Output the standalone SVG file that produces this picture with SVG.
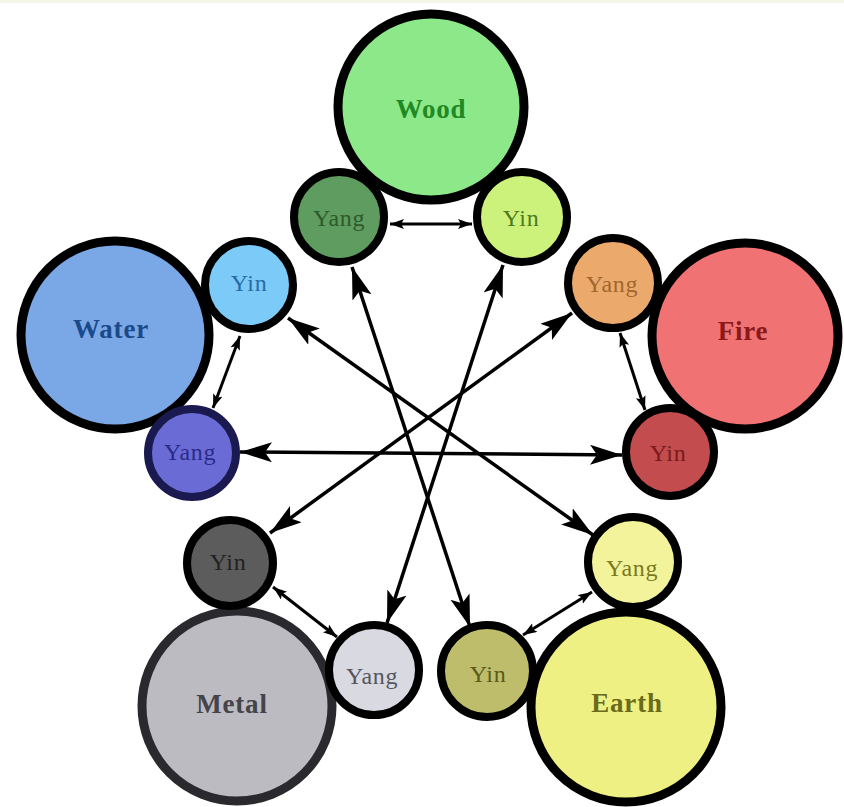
<svg xmlns="http://www.w3.org/2000/svg" width="844" height="807" viewBox="0 0 844 807">
<defs>
<marker id="big" markerUnits="userSpaceOnUse" markerWidth="34" markerHeight="22" refX="32" refY="10" orient="auto-start-reverse" viewBox="0 0 34 22">
<path d="M0,0 L32,10 L0,20 L7,10 z" fill="#000"/>
</marker>
<marker id="small" markerUnits="userSpaceOnUse" markerWidth="16" markerHeight="12" refX="14" refY="5" orient="auto-start-reverse" viewBox="0 0 16 12">
<path d="M0,0 L14,5 L0,10 L3,5 z" fill="#000"/>
</marker>
<style>
.big{stroke:#000;stroke-width:9}
.sm{stroke:#000;stroke-width:8}
.bl{font-family:"Liberation Serif",serif;font-weight:bold;font-size:27px;text-anchor:middle;letter-spacing:0.8px}
.yl{font-family:"Liberation Serif",serif;font-size:24px;text-anchor:middle;letter-spacing:0.6px}
.la{fill:none;stroke:#000;stroke-width:3.5;marker-start:url(#big);marker-end:url(#big)}
.sa{fill:none;stroke:#000;stroke-width:3;marker-start:url(#small);marker-end:url(#small)}
</style>
</defs>
<rect x="0" y="0" width="844" height="807" fill="#fff"/>
<rect x="0" y="0" width="844" height="3" fill="#f6f6e8"/>

<g id="wood">
<circle cx="431" cy="107" r="93" class="big" fill="#8ce888"/>
<text x="431" y="118" class="bl" fill="#1f8a24">Wood</text>
</g>
<g id="wood-yang">
<circle cx="339" cy="217" r="45" class="sm" fill="#5f9c5f"/>
<text x="339" y="226" class="yl" fill="#2d5a2d">Yang</text>
</g>
<g id="wood-yin">
<circle cx="522" cy="217" r="45" class="sm" fill="#cdf27c"/>
<text x="521" y="226" class="yl" fill="#4d7a1c">Yin</text>
</g>

<g id="water">
<circle cx="115" cy="335" r="94" class="big" fill="#7aa8e6"/>
<text x="111" y="338" class="bl" fill="#1b4a8a">Water</text>
</g>
<g id="water-yin">
<circle cx="249" cy="285" r="44" class="sm" fill="#7ccaf8"/>
<text x="249" y="291" class="yl" fill="#2a6aa6">Yin</text>
</g>
<g id="water-yang">
<circle cx="192" cy="453" r="44" stroke="#1a1a50" stroke-width="8" fill="#6b6bd6"/>
<text x="190" y="460" class="yl" fill="#2a2a88">Yang</text>
</g>

<g id="fire">
<circle cx="745" cy="336" r="93" class="big" fill="#f07272"/>
<text x="743" y="340" class="bl" fill="#8a1a1a">Fire</text>
</g>
<g id="fire-yang">
<circle cx="613" cy="283" r="45" class="sm" fill="#ebaa6c"/>
<text x="612" y="292" class="yl" fill="#a2662c">Yang</text>
</g>
<g id="fire-yin">
<circle cx="670" cy="452" r="44" class="sm" fill="#c24c4e"/>
<text x="668" y="461" class="yl" fill="#7a1a1e">Yin</text>
</g>

<g id="metal">
<circle cx="237" cy="706" r="95" stroke="#2a2a2e" stroke-width="9" fill="#bbbbc1"/>
<text x="232" y="713" class="bl" fill="#44444a">Metal</text>
</g>
<g id="metal-yin">
<circle cx="230" cy="563" r="43" class="sm" fill="#5c5c5c"/>
<text x="228" y="570" class="yl" fill="#222">Yin</text>
</g>
<g id="metal-yang">
<circle cx="374" cy="670" r="45" class="sm" fill="#d9d9e1"/>
<text x="372" y="684" class="yl" fill="#55555c">Yang</text>
</g>

<g id="earth">
<circle cx="626" cy="707" r="95" class="big" fill="#eef083"/>
<text x="627" y="712" class="bl" fill="#6b6b1c">Earth</text>
</g>
<g id="earth-yang">
<circle cx="633" cy="562" r="45" class="sm" fill="#f3f39c"/>
<text x="632" y="576" class="yl" fill="#7a7a1c">Yang</text>
</g>
<g id="earth-yin">
<circle cx="487" cy="671" r="46" class="sm" fill="#bdbd6b"/>
<text x="488" y="682" class="yl" fill="#5a5a1c">Yin</text>
</g>

<g id="connectors">
<line x1="390" y1="224" x2="472" y2="224" class="sa"/>
<line x1="240" y1="336" x2="213" y2="408" class="sa"/>
<line x1="620" y1="333" x2="645" y2="410" class="sa"/>
<line x1="273" y1="587" x2="337" y2="637" class="sa"/>
<line x1="523" y1="635" x2="592" y2="592" class="sa"/>
<line x1="240" y1="452" x2="622" y2="455" class="la"/>
<line x1="352" y1="267" x2="470" y2="627" class="la"/>
<line x1="503" y1="265" x2="387" y2="623" class="la"/>
<line x1="288" y1="318" x2="593" y2="535" class="la"/>
<line x1="572" y1="313" x2="270" y2="533" class="la"/>
</g>
</svg>
